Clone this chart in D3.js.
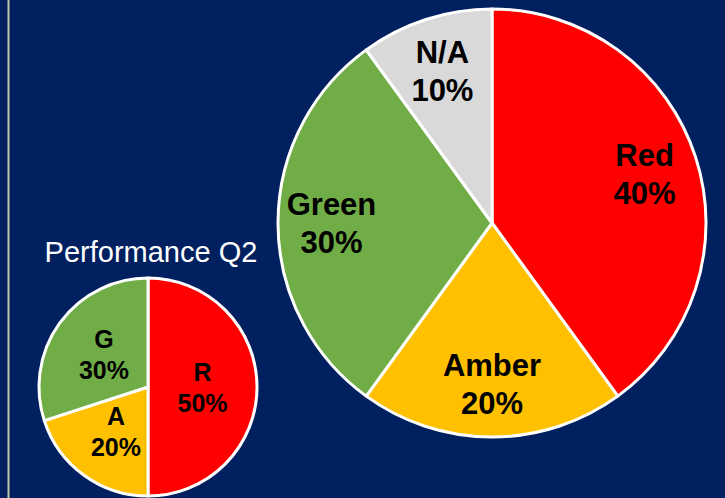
<!DOCTYPE html>
<html>
<head>
<meta charset="utf-8">
<script src="https://cdn.jsdelivr.net/npm/d3@7"></script>
<style>
  html, body { margin: 0; padding: 0; background: #002060; }
  svg { display: block; }
  text { font-family: "Liberation Sans", Arial, sans-serif; }
</style>
</head>
<body>
<svg></svg>
<script>
// Q2 small pie
var q2Labels = ["R", "A", "G"];
var q2Values = [50, 20, 30];
var q2Colors = ["#ff0000", "#ffc000", "#70ad47"];

// main pie
var mainLabels = ["Red", "Amber", "Green", "N/A"];
var mainValues = [40, 20, 30, 10];
var mainColors = ["#ff0000", "#ffc000", "#70ad47", "#d9d9d9"];

var svgWidth = 725,
    svgHeight = 498;

var svg = d3.select("svg")
    .attr("width", svgWidth)
    .attr("height", svgHeight);

svg.append("rect")
    .attr("width", svgWidth)
    .attr("height", svgHeight)
    .style("fill", "#002060");

// thin divider on the left
svg.append("line")
    .attr("x1", 8.5).attr("x2", 8.5)
    .attr("y1", 0).attr("y2", svgHeight)
    .style("stroke", "#bccaa6")
    .style("stroke-width", 2);

function drawPie(opts) {
  var data = opts.labels.map(function(l, i){
    return {label: l, value: opts.values[i], color: opts.colors[i]};
  });

  var pie = d3.pie().sort(null).value(function(d){ return d.value; });
  var arc = d3.arc().innerRadius(0).outerRadius(opts.radius);
  var labelArc = d3.arc().innerRadius(opts.radius*opts.labelPos).outerRadius(opts.radius*opts.labelPos);

  var g = svg.append("g")
      .attr("transform", "translate("+[opts.cx, opts.cy]+")");

  g.selectAll(".slice")
      .data(pie(data))
      .enter()
      .append("path")
        .classed("slice", true)
        .attr("d", arc)
        .style("fill", function(d){ return d.data.color; })
        .style("stroke", "#ffffff")
        .style("stroke-width", 3)
        .style("stroke-linejoin", "round");

  var labels = g.selectAll(".label")
      .data(pie(data))
      .enter()
      .append("text")
        .classed("label", true)
        .attr("transform", function(d){ return "translate("+labelArc.centroid(d)+")"; })
        .attr("text-anchor", "middle")
        .style("font-size", opts.fontSize+"px")
        .style("font-weight", "bold")
        .style("fill", "#000");

  labels.append("tspan")
      .attr("x", 0)
      .attr("y", -opts.lineGap/2 + opts.fontSize*0.36)
      .text(function(d){ return d.data.label; });
  labels.append("tspan")
      .attr("x", 0)
      .attr("y", opts.lineGap/2 + opts.fontSize*0.36)
      .text(function(d){ return d.data.value + "%"; });

  return g;
}

drawPie({
  labels: mainLabels, values: mainValues, colors: mainColors,
  cx: 492, cy: 223, radius: 214, labelPos: 0.75,
  fontSize: 31, lineGap: 38
});

drawPie({
  labels: q2Labels, values: q2Values, colors: q2Colors,
  cx: 148, cy: 387, radius: 109, labelPos: 0.5,
  fontSize: 25, lineGap: 31
});

svg.append("text")
    .attr("x", 151)
    .attr("y", 262)
    .attr("text-anchor", "middle")
    .style("font-size", "29px")
    .style("fill", "#ffffff")
    .text("Performance Q2");
</script>
</body>
</html>
